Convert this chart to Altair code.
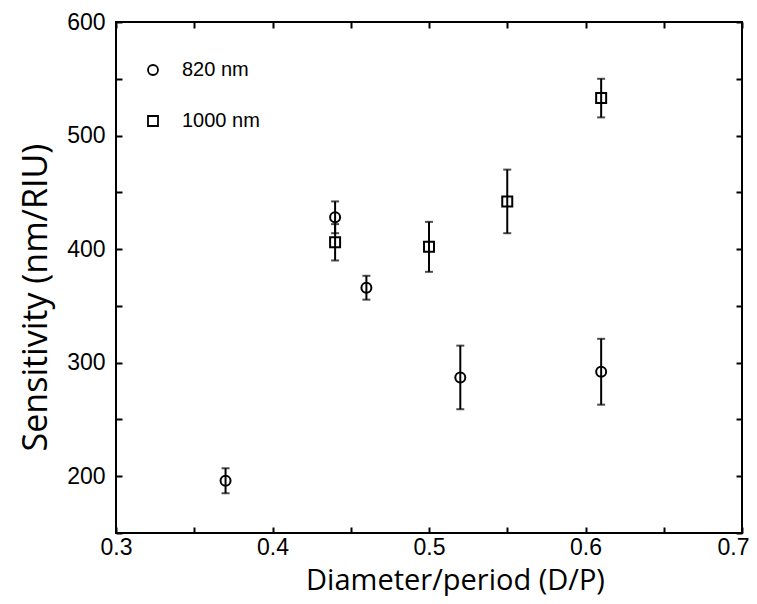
import altair as alt
import pandas as pd

# 820 nm series (circles)
x820 = [0.37, 0.44, 0.46, 0.52, 0.61]
y820 = [196, 428, 366, 287, 292]
e820 = [11, 14, 10.5, 28, 29]

# 1000 nm series (squares)
x1000 = [0.44, 0.50, 0.55, 0.61]
y1000 = [406, 402, 442, 533]
e1000 = [16, 22, 28, 17]

series_names = ["820 nm", "1000 nm"]
x_ticks = [0.3, 0.35, 0.4, 0.45, 0.5, 0.55, 0.6, 0.65, 0.7]
y_ticks = [150, 200, 250, 300, 350, 400, 450, 500, 550, 600]

rows = []
for x, y, e in zip(x820, y820, e820):
    rows.append({"x": x, "y": y, "lo": y - e, "hi": y + e, "s": series_names[0]})
for x, y, e in zip(x1000, y1000, e1000):
    rows.append({"x": x, "y": y, "lo": y - e, "hi": y + e, "s": series_names[1]})
df = pd.DataFrame(rows)

xs = alt.Scale(domain=[0.3, 0.7], nice=False, zero=False)
ys = alt.Scale(domain=[150, 600], nice=False, zero=False)

common_axis = dict(
    grid=False, domain=False, tickColor="black", tickWidth=2, tickSize=6,
    offset=-6, labelFont="Liberation Sans", labelFontSize=23, labelColor="black",
    labelOverlap=False, labelBound=False, labelFlush=False,
    titleFont="Open Sans", titleFontWeight="normal", titleColor="black",
)

x_bottom = alt.Axis(
    orient="bottom", values=x_ticks, title="Diameter/period (D/P)",
    labelExpr="round(datum.value*100) % 10 == 0 ? format(datum.value, '.1f') : ''",
    labelAlign=alt.condition("datum.value >= 0.69", alt.value("right"), alt.value("center")),
    labelOffset=alt.condition("datum.value >= 0.69", alt.value(7), alt.value(0)),
    labelPadding=3, titleFontSize=29, titleX=339, titleY=62,
    titleBaseline="alphabetic", **common_axis)
y_left = alt.Axis(
    orient="left", values=y_ticks, title="Sensitivity (nm/RIU)",
    labelExpr="datum.value % 100 == 0 ? format(datum.value, 'd') : ''",
    labelPadding=11, titlePadding=13, titleFontSize=34, titleY=275, **common_axis)
x_top = alt.Axis(orient="top", values=x_ticks, labels=False, title=None,
                 grid=False, domain=False, tickColor="black", tickWidth=2,
                 tickSize=6, offset=-6)
y_right = alt.Axis(orient="right", values=y_ticks, labels=False, title=None,
                   grid=False, domain=False, tickColor="black", tickWidth=2,
                   tickSize=6, offset=-6)

base = alt.Chart(df)

bars = base.mark_rule(color="black", strokeWidth=2).encode(
    x=alt.X("x:Q", scale=xs, axis=x_bottom),
    y=alt.Y("lo:Q", scale=ys, axis=y_left),
    y2="hi:Q",
)
cap_lo = base.mark_tick(color="black", thickness=2, size=8, orient="horizontal").encode(
    x=alt.X("x:Q", scale=xs, axis=None),
    y=alt.Y("lo:Q", scale=ys, axis=None),
)
cap_hi = base.mark_tick(color="black", thickness=2, size=8, orient="horizontal").encode(
    x=alt.X("x:Q", scale=xs, axis=None),
    y=alt.Y("hi:Q", scale=ys, axis=None),
)
pts = base.mark_point(filled=False, color="black", strokeWidth=2, opacity=1, size=100).encode(
    x=alt.X("x:Q", scale=xs, axis=None),
    y=alt.Y("y:Q", scale=ys, axis=None),
    shape=alt.Shape("s:N", scale=alt.Scale(domain=series_names, range=["circle", "square"]),
                    legend=alt.Legend(title=None, orient="none", legendX=27, legendY=38,
                                      labelFont="Liberation Sans", labelFontSize=20,
                                      labelColor="black", symbolSize=100,
                                      symbolStrokeColor="black", symbolStrokeWidth=1.8,
                                      symbolFillColor="transparent",
                                      labelOffset=19, rowPadding=31, padding=0)),
)
frame_axes = base.mark_point(opacity=0).encode(
    x=alt.X("x:Q", scale=xs, axis=x_top),
    y=alt.Y("y:Q", scale=ys, axis=y_right),
)

chart = alt.layer(bars, cap_lo, cap_hi, pts, frame_axes).resolve_axis(
    x="independent", y="independent"
).properties(
    width=626, height=511,
    background="white",
    autosize=alt.AutoSizeParams(type="none"),
    padding={"left": 108, "top": 14, "right": 7, "bottom": 63},
).configure_view(stroke="black", strokeWidth=2)

chart.save("out.html", embed_options={"renderer": "svg", "actions": False})
